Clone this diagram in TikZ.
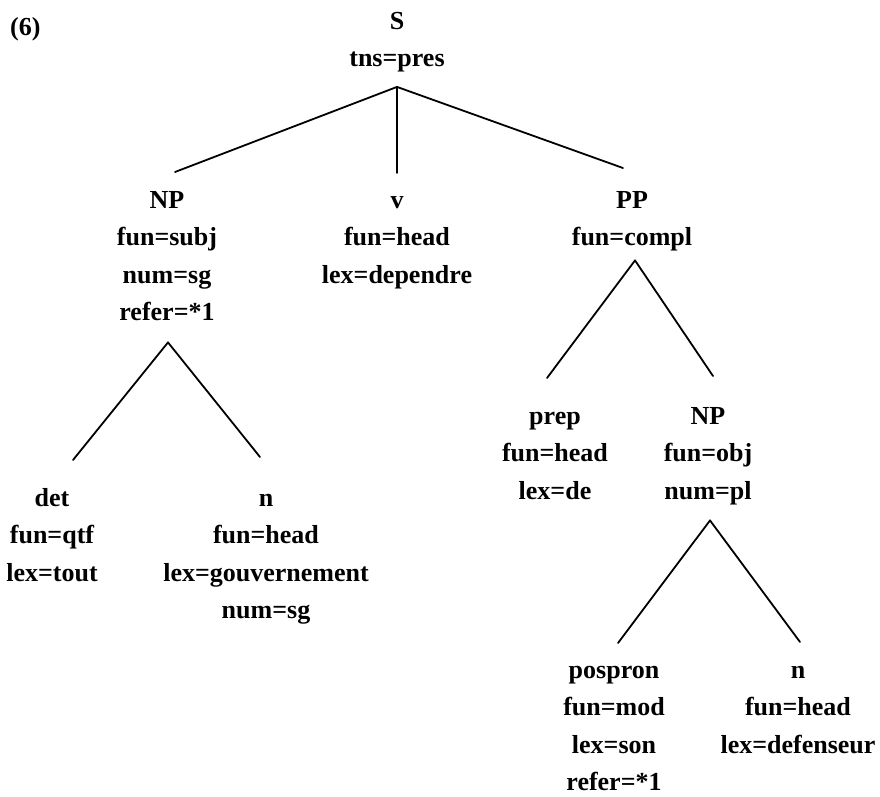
\documentclass[tikz,border=0pt]{standalone}
\usepackage{fontspec}
\setmainfont{Liberation Serif}
\usetikzlibrary{calc}
% one strut per line: 27pt above the baseline, 10.5pt below (= line pitch 37.5pt)
\newcommand\rs{\rule[-10.5pt]{0pt}{37.5pt}}
\begin{document}
\begin{tikzpicture}[x=1pt,y=-1pt,
  txt/.style={inner sep=0pt, font=\fontsize{26}{37.5}\selectfont\bfseries},
  feat/.style={txt, anchor=north, align=center},
  branch/.style={line width=1.8pt, line cap=round, line join=round}]
\useasboundingbox (0,0) rectangle (880,796);

% example number
\node[txt, anchor=base west] (ex) at (10,35) {(6)};

% root
\node[feat] (S)    at (397,2)   {\rs S\\\rs tns=pres};

% first level
\node[feat] (np1)  at (167,181) {\rs NP\\\rs fun=subj\\\rs num=sg\\\rs refer=*1};
\node[feat] (v)    at (397,181) {\rs v\\\rs fun=head\\\rs lex=dependre};
\node[feat] (pp)   at (632,181) {\rs PP\\\rs fun=compl};

% under the subject NP
\node[feat] (det)  at (52,479)  {\rs det\\\rs fun=qtf\\\rs lex=tout};
\node[feat] (n1)   at (266,479) {\rs n\\\rs fun=head\\\rs lex=gouvernement\\\rs num=sg};

% under the PP
\node[feat] (prep) at (555,397) {\rs prep\\\rs fun=head\\\rs lex=de};
\node[feat] (np2)  at (708,397) {\rs NP\\\rs fun=obj\\\rs num=pl};

% under the object NP
\node[feat] (pos)  at (614,651) {\rs pospron\\\rs fun=mod\\\rs lex=son\\\rs refer=*1};
\node[feat] (n2)   at (798,651) {\rs n\\\rs fun=head\\\rs lex=defenseur};

% branches
\draw[branch] ($(S.south)+(0,9.5)$) coordinate (sa) -- ($(np1.north)+(8,-9)$);
\draw[branch] (sa) -- ($(v.north)+(0,-8)$);
\draw[branch] (sa) -- ($(pp.north)+(-9,-13)$);

\draw[branch] ($(np1.south)+(1,11)$) coordinate (npa) -- ($(det.north)+(21,-19)$);
\draw[branch] (npa) -- ($(n1.north)+(-6,-22)$);

\draw[branch] ($(pp.south)+(3,4)$) coordinate (ppa) -- ($(prep.north)+(-8,-19)$);
\draw[branch] (ppa) -- ($(np2.north)+(5,-21)$);

\draw[branch] ($(np2.south)+(2,10.5)$) coordinate (np2a) -- ($(pos.north)+(4,-8)$);
\draw[branch] (np2a) -- ($(n2.north)+(2,-9)$);
\end{tikzpicture}
\end{document}
